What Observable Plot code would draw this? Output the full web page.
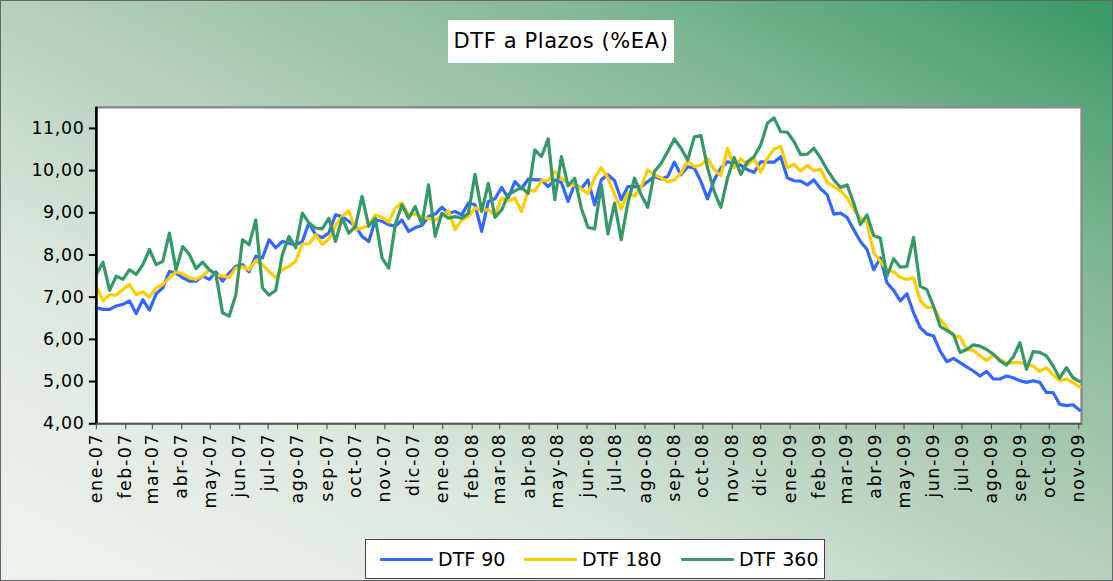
<!DOCTYPE html>
<html>
<head>
<meta charset="utf-8">
<script src="https://cdn.jsdelivr.net/npm/d3@7"></script>
<script src="https://cdn.jsdelivr.net/npm/@observablehq/plot@0.6"></script>
<style>
  html, body { margin: 0; padding: 0; }
  #wrap {
    position: relative; width: 1113px; height: 581px; overflow: hidden;
    box-sizing: border-box; border: 1px solid #666;
    background: linear-gradient(to top right, #eef2ee 0%, #dde8df 28%, #b6d0bd 50%, #84b898 75%, #379866 100%);
    font-family: "DejaVu Sans", sans-serif;
  }
  #chart { position: absolute; left: 0; top: 0; }
  #chart g[aria-label="x-axis tick label"] text { letter-spacing: 1.6px; }
  #chart g[aria-label="y-axis tick label"] text { letter-spacing: 0.6px; }
  #title {
    position: absolute; left: 447px; top: 19px; width: 226px; height: 43px;
    background: white; font-size: 21px; line-height: 43px; text-align: center; color: #000;
    letter-spacing: 0.6px;
  }
  #legend {
    position: absolute; left: 364px; top: 538px; width: 460px; height: 40px; box-sizing: border-box;
    background: white; border: 1px solid #444;
    font-size: 19px; color: #000;
  }
  .item { display: flex; align-items: center; position: absolute; top: 0; height: 38px; }
  .sw { display: inline-block; width: 53px; height: 3px; margin-right: 5px; border-radius: 1px; }
</style>
</head>
<body>
<div id="wrap">
  <div id="chart"></div>
  <div id="title">DTF a Plazos (%EA)</div>
  <div id="legend"></div>
</div>
<script>
// ---- data (weekly observations, Jan 2007 – Nov 2009) ----
const startDate = new Date(Date.UTC(2007, 0, 1));
const endDate = new Date(Date.UTC(2009, 10, 4));
const seriesNames = ["DTF 90", "DTF 180", "DTF 360"];
const seriesColors = ["#3366ff", "#ffcc00", "#339966"];
const monthLabels = ["ene","feb","mar","abr","may","jun","jul","ago","sep","oct","nov","dic"];
const yTicks = [4, 5, 6, 7, 8, 9, 10, 11];

const dtf90 = [
  6.75, 6.71, 6.71, 6.79, 6.83, 6.91, 6.61, 6.94, 6.69, 7.08,
  7.22, 7.61, 7.57, 7.46, 7.38, 7.38, 7.50, 7.42, 7.60, 7.38,
  7.57, 7.73, 7.77, 7.60, 7.97, 7.93, 8.36, 8.17, 8.32, 8.28,
  8.24, 8.32, 8.76, 8.48, 8.41, 8.52, 8.95, 8.91, 8.80, 8.68,
  8.44, 8.32, 8.83, 8.80, 8.72, 8.68, 8.83, 8.56, 8.65, 8.70,
  8.91, 8.97, 9.13, 8.99, 9.03, 8.95, 9.23, 9.19, 8.56, 9.27,
  9.33, 9.60, 9.35, 9.74, 9.57, 9.80, 9.78, 9.78, 9.62, 9.78,
  9.72, 9.27, 9.68, 9.57, 9.78, 9.19, 9.78, 9.90, 9.76, 9.31,
  9.62, 9.62, 9.62, 9.74, 9.86, 9.80, 9.86, 10.20, 9.90, 10.09,
  10.06, 9.74, 9.33, 9.78, 10.06, 10.21, 10.17, 10.13, 10.02, 9.96,
  10.21, 10.20, 10.20, 10.33, 9.83, 9.76, 9.75, 9.66, 9.78, 9.57,
  9.43, 8.97, 8.99, 8.89, 8.60, 8.32, 8.13, 7.65, 7.93, 7.34,
  7.16, 6.91, 7.08, 6.63, 6.28, 6.13, 6.08, 5.72, 5.47, 5.55,
  5.45, 5.35, 5.25, 5.13, 5.24, 5.06, 5.06, 5.13, 5.09, 5.02,
  4.98, 5.02, 4.98, 4.74, 4.74, 4.46, 4.43, 4.45, 4.32
];
const dtf180 = [
  7.26, 6.91, 7.06, 7.05, 7.18, 7.30, 7.06, 7.13, 7.00, 7.22,
  7.30, 7.46, 7.60, 7.55, 7.46, 7.42, 7.50, 7.65, 7.52, 7.50,
  7.47, 7.69, 7.72, 7.65, 7.87, 7.77, 7.61, 7.46, 7.65, 7.73,
  7.85, 8.26, 8.26, 8.48, 8.25, 8.38, 8.70, 8.91, 9.05, 8.60,
  8.64, 8.70, 8.95, 8.89, 8.78, 9.11, 9.24, 8.95, 8.97, 8.91,
  8.86, 8.83, 8.91, 9.05, 8.60, 8.83, 8.91, 9.11, 9.07, 9.07,
  8.95, 9.35, 9.28, 9.35, 9.03, 9.52, 9.52, 9.76, 9.76, 9.98,
  9.81, 9.70, 9.64, 9.57, 9.46, 9.82, 10.07, 9.82, 9.43, 9.09,
  9.46, 9.39, 9.62, 10.02, 9.90, 9.83, 9.74, 9.78, 9.94, 10.23,
  10.09, 10.13, 10.29, 10.02, 9.88, 10.53, 10.07, 10.28, 10.13, 10.28,
  9.96, 10.29, 10.51, 10.57, 10.07, 10.15, 9.99, 10.12, 10.00, 10.03,
  9.72, 9.62, 9.52, 9.35, 9.09, 8.87, 8.76, 8.05, 7.85, 7.65,
  7.60, 7.47, 7.42, 7.46, 6.92, 6.76, 6.76, 6.47, 6.28, 6.08,
  6.06, 5.76, 5.74, 5.61, 5.50, 5.63, 5.53, 5.43, 5.45, 5.45,
  5.41, 5.37, 5.24, 5.33, 5.16, 5.02, 5.06, 4.98, 4.87
];
const dtf360 = [
  7.54, 7.83, 7.16, 7.50, 7.42, 7.65, 7.54, 7.77, 8.13, 7.77,
  7.85, 8.52, 7.65, 8.20, 8.01, 7.68, 7.83, 7.65, 7.54, 6.63,
  6.55, 7.06, 8.36, 8.24, 8.83, 7.22, 7.05, 7.16, 8.01, 8.44,
  8.17, 8.99, 8.76, 8.64, 8.62, 8.87, 8.32, 8.87, 8.52, 8.68,
  9.39, 8.68, 8.87, 7.93, 7.69, 8.72, 9.19, 8.87, 9.15, 8.72,
  9.66, 8.44, 8.99, 8.87, 8.91, 8.87, 8.99, 9.91, 9.03, 9.70,
  8.89, 9.07, 9.43, 9.52, 9.60, 9.46, 10.49, 10.33, 10.75, 9.31,
  10.33, 9.64, 9.82, 9.11, 8.65, 8.62, 9.66, 8.50, 9.23, 8.36,
  9.23, 9.82, 9.43, 9.13, 9.98, 10.17, 10.45, 10.75, 10.53, 10.25,
  10.80, 10.83, 10.06, 9.50, 9.13, 9.82, 10.31, 9.91, 10.21, 10.33,
  10.61, 11.12, 11.25, 10.92, 10.91, 10.69, 10.38, 10.39, 10.53, 10.30,
  10.02, 9.78, 9.60, 9.66, 9.23, 8.72, 8.95, 8.46, 8.40, 7.50,
  7.91, 7.71, 7.73, 8.42, 7.26, 7.18, 6.79, 6.31, 6.21, 6.12,
  5.69, 5.76, 5.87, 5.84, 5.76, 5.65, 5.49, 5.39, 5.58, 5.92,
  5.29, 5.71, 5.69, 5.61, 5.37, 5.08, 5.33, 5.09, 5.00
];

// ---- build table ----
const seriesValues = [dtf90, dtf180, dtf360];
const rows = [];
seriesValues.forEach((vals, s) => {
  vals.forEach((v, i) => {
    rows.push({date: d3.utcDay.offset(startDate, 7 * i), value: v, series: seriesNames[s]});
  });
});

const monthTicks = d3.utcMonth.range(startDate, d3.utcDay.offset(endDate, 1));
const fmtMonth = d => `${monthLabels[d.getUTCMonth()]}-${String(d.getUTCFullYear() % 100).padStart(2, "0")}`;
const fmtY = d => d.toFixed(2).replace(".", ",");

const chart = Plot.plot({
  width: 1113,
  height: 530,
  marginLeft: 95,
  marginRight: 31,
  marginTop: 106,
  marginBottom: 107,
  style: {background: "transparent", fontFamily: "DejaVu Sans, sans-serif", color: "#000", overflow: "visible"},
  x: {type: "utc", domain: [startDate, endDate], label: null},
  y: {domain: [4, 11.5], label: null},
  color: {domain: seriesNames, range: seriesColors},
  marks: [
    Plot.frame({fill: "white", stroke: "#8c8c8c", strokeWidth: 2.5}),
    Plot.line(rows, {x: "date", y: "value", z: "series", stroke: "series", strokeWidth: 3.2, strokeLinejoin: "round"}),
    Plot.ruleX([startDate], {stroke: "#000", strokeWidth: 2.6}),
    Plot.ruleY([4], {stroke: "#555", strokeWidth: 1.5}),
    Plot.axisY({ticks: yTicks, tickFormat: fmtY, tickSize: 7, tickPadding: 5, fontSize: 17.5, stroke: "#000", strokeWidth: 2, label: null}),
    Plot.axisX({ticks: monthTicks, tickFormat: fmtMonth, tickRotate: -90, tickSize: 6, tickPadding: 3, fontSize: 17.5, stroke: "#444", strokeWidth: 1, label: null})
  ]
});
document.getElementById("chart").appendChild(chart);

// ---- legend ----
const legend = document.getElementById("legend");
const legendX = [14, 158, 315];
seriesNames.forEach((name, i) => {
  const it = document.createElement("div");
  it.className = "item";
  it.style.left = legendX[i] + "px";
  it.innerHTML = `<span class="sw" style="background:${seriesColors[i]}"></span><span>${name}</span>`;
  legend.appendChild(it);
});
</script>
</body>
</html>
